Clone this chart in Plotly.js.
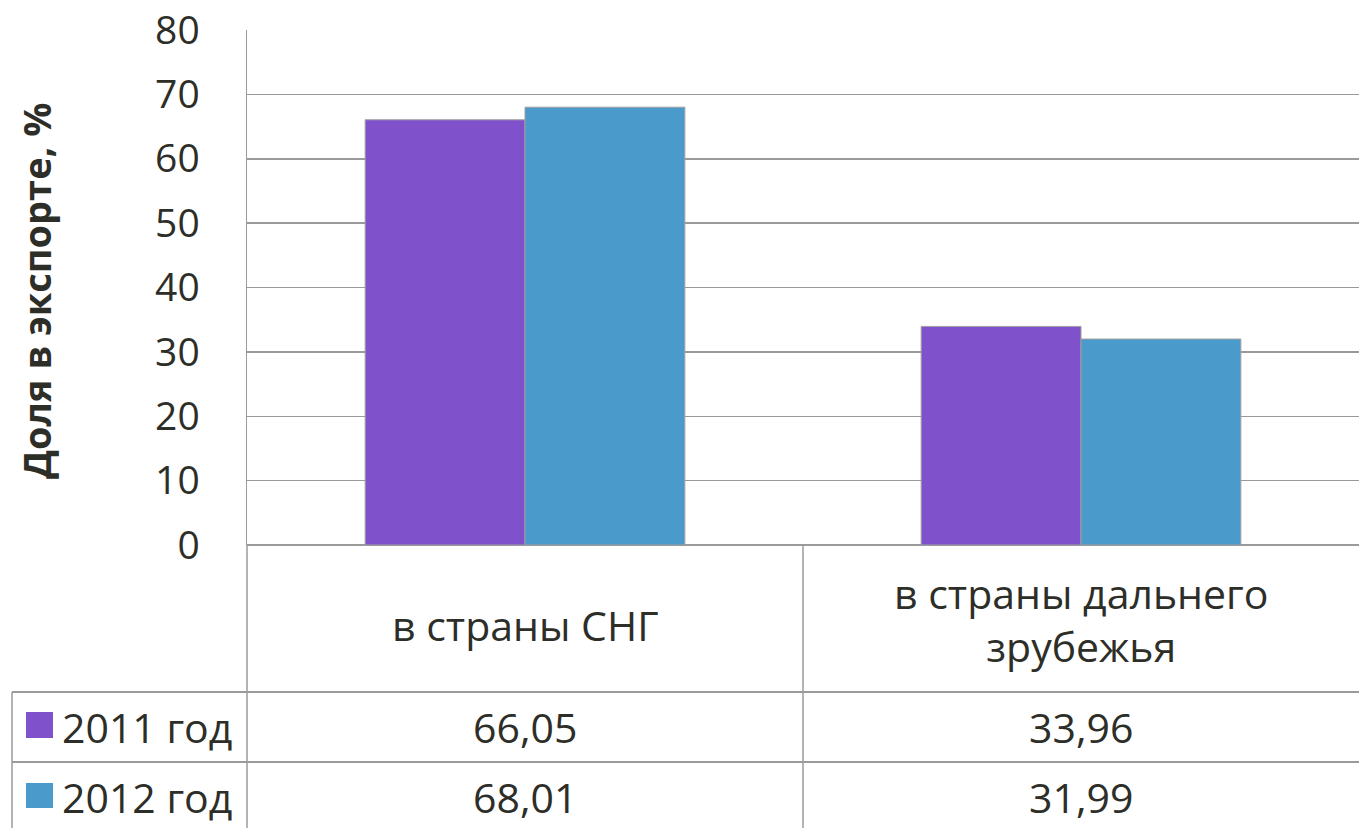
<!DOCTYPE html>
<html>
<head>
<meta charset="utf-8">
<script src="https://cdn.plot.ly/plotly-3.0.1.min.js"></script>
<style>html,body{margin:0;padding:0;background:#fff;}#chart{width:1359px;height:828px;}</style>
</head>
<body>
<div id="chart"></div>
<script>
var categories = ["в страны СНГ", "в страны дальнего<br>зрубежья"];
var seriesNames = ["2011 год", "2012 год"];
var values2011 = [66.05, 33.96];
var values2012 = [68.01, 31.99];
var tableText2011 = ["66,05", "33,96"];
var tableText2012 = ["68,01", "31,99"];
var colors = ["#7f52cc", "#4a9acb"];
var yTitle = "Доля в экспорте, %";

var FONT = "Open Sans, Noto Sans, sans-serif";
var TXT = "#2e2e28";
var LINE = "#9a9a9a";
var TS = 41;

var H = 515; // plot height px
function py(pix) { return -(pix - 545) / H; } // page y -> paper y
function px(pix) { return (pix - 247) / 1112; }

var traces = [
  {type: "bar", x: categories, y: values2011, name: seriesNames[0],
   marker: {color: colors[0], line: {color: "#a0a0a0", width: 1}}},
  {type: "bar", x: categories, y: values2012, name: seriesNames[1],
   marker: {color: colors[1], line: {color: "#a0a0a0", width: 1}}}
];

var annotations = [];
var shapes = [];
categories.forEach(function (c, i) {
  annotations.push({xref: "x", yref: "paper", x: c, y: i === 0 ? py(625) : py(619),
    text: c, showarrow: false, xanchor: "center", yanchor: "middle",
    font: {family: FONT, size: TS, color: TXT}});
  annotations.push({xref: "x", yref: "paper", x: c, y: py(727),
    text: tableText2011[i], showarrow: false, xanchor: "center", yanchor: "middle",
    font: {family: FONT, size: TS, color: TXT}});
  annotations.push({xref: "x", yref: "paper", x: c, y: py(797),
    text: tableText2012[i], showarrow: false, xanchor: "center", yanchor: "middle",
    font: {family: FONT, size: TS, color: TXT}});
});
[[seriesNames[0], 727, 712, 738], [seriesNames[1], 797, 783, 808]].forEach(function (r, i) {
  annotations.push({xref: "paper", yref: "paper", x: px(60), y: py(r[1]),
    text: r[0], showarrow: false, xanchor: "left", yanchor: "middle",
    font: {family: FONT, size: TS, color: TXT}});
  shapes.push({type: "rect", xref: "paper", yref: "paper", x0: px(26), x1: px(53),
    y0: py(r[2]), y1: py(r[3]), fillcolor: colors[i], line: {width: 0}});
});
annotations.push({xref: "paper", yref: "paper", x: px(36), y: py(290), text: "<b>" + yTitle + "</b>",
  textangle: -90, showarrow: false, xanchor: "center", yanchor: "middle",
  font: {family: FONT, size: 38, color: TXT}});

shapes.push({type: "line", xref: "paper", yref: "paper", x0: 0, x1: 0, y0: 0, y1: py(828), line: {color: LINE, width: 1.5}});
shapes.push({type: "line", xref: "x", yref: "paper", x0: 0.5, x1: 0.5, y0: 0, y1: py(828), line: {color: LINE, width: 1.5}});
shapes.push({type: "line", xref: "paper", yref: "paper", x0: px(12), x1: px(12), y0: py(692), y1: py(828), line: {color: LINE, width: 1.5}});
shapes.push({type: "line", xref: "paper", yref: "paper", x0: px(12), x1: 1, y0: py(692), y1: py(692), line: {color: LINE, width: 2}});
shapes.push({type: "line", xref: "paper", yref: "paper", x0: px(12), x1: 1, y0: py(762), y1: py(762), line: {color: LINE, width: 2}});

var layout = {
  width: 1359, height: 828,
  margin: {l: 247, r: 0, t: 30, b: 283},
  paper_bgcolor: "#fff", plot_bgcolor: "#fff",
  barmode: "group", bargap: 0.425, bargroupgap: 0,
  showlegend: false,
  xaxis: {type: "category", range: [-0.5, 1.5], showticklabels: false, ticks: "",
    showgrid: false, zeroline: false, showline: false, fixedrange: true},
  yaxis: {range: [0, 80], dtick: 10, tick0: 0, showgrid: true, gridcolor: LINE, gridwidth: 1.5,
    zeroline: true, zerolinecolor: LINE, zerolinewidth: 1.5,
    showline: true, linecolor: LINE, linewidth: 1.5,
    ticks: "outside", ticklen: 38, tickcolor: "rgba(0,0,0,0)",
    tickfont: {family: FONT, size: 39, color: TXT}, fixedrange: true},
  annotations: annotations,
  shapes: shapes
};

Plotly.newPlot("chart", traces, layout, {displayModeBar: false, staticPlot: true});
</script>
</body>
</html>
